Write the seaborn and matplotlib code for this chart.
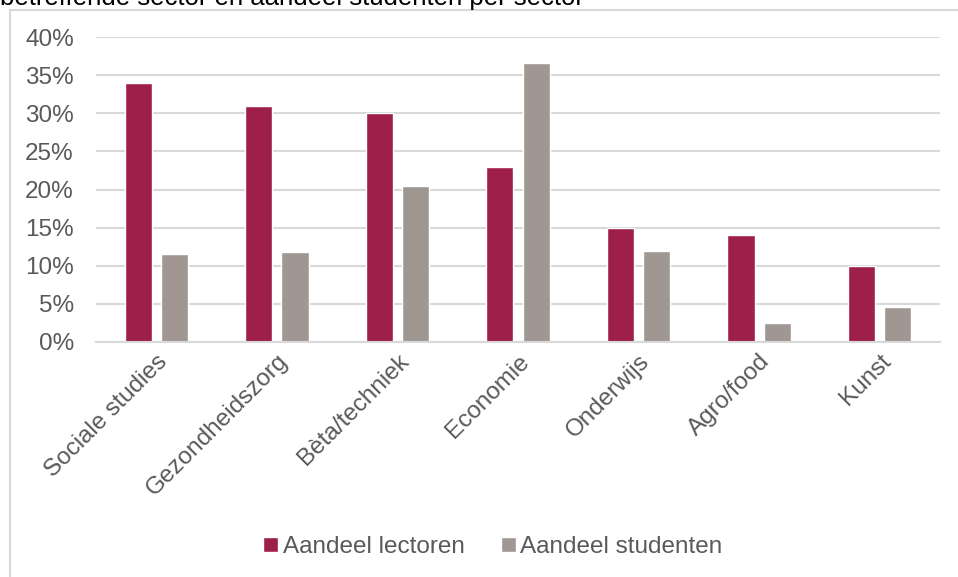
import pandas as pd
import seaborn as sns
import matplotlib.pyplot as plt
from matplotlib.lines import Line2D
from matplotlib.ticker import PercentFormatter

sectors = ['Sociale studies', 'Gezondheidszorg', 'Bèta/techniek', 'Economie',
           'Onderwijs', 'Agro/food', 'Kunst']
lectoren = [34, 31, 30, 23, 15, 14, 10]
studenten = [11.5, 11.8, 20.5, 36.6, 12.0, 2.5, 4.6]
series = ['Aandeel lectoren', 'Aandeel studenten']
colors = {'Aandeel lectoren': '#9E1F4A', 'Aandeel studenten': '#A09792'}

df = pd.DataFrame({
    'sector': sectors * 2,
    'reeks': [series[0]] * len(sectors) + [series[1]] * len(sectors),
    'aandeel': [v / 100 for v in lectoren + studenten],
})

sns.set_style('white')
plt.rcParams['font.family'] = ['Liberation Sans', 'DejaVu Sans']
text_color = '#595959'
grid_color = '#D9D9D9'

fig = plt.figure(figsize=(9.58, 5.77), dpi=100)
ax = fig.add_axes([96 / 958, 235 / 577, 844 / 958, 305 / 577])

sns.barplot(data=df, x='sector', y='aandeel', hue='reeks', palette=colors,
            width=0.6, gap=0.25, ax=ax, saturation=1)

ax.set_ylim(0, 0.4)
ax.set_xlim(-0.5, len(sectors) - 0.5)
ax.set_yticks([i * 0.05 for i in range(9)])
ax.yaxis.set_major_formatter(PercentFormatter(1.0, decimals=0))
ax.yaxis.grid(True, color=grid_color, linewidth=1.5)
ax.set_axisbelow(True)
for side in ['left', 'right', 'top']:
    ax.spines[side].set_visible(False)
ax.spines['bottom'].set_color(grid_color)
ax.spines['bottom'].set_linewidth(1.5)
ax.tick_params(axis='both', length=0, labelsize=17.5, colors=text_color)
ax.tick_params(axis='x', pad=6)
ax.tick_params(axis='y', pad=16)
ax.set_xlabel('')
ax.set_ylabel('')
plt.setp(ax.get_xticklabels(), rotation=45, ha='right', rotation_mode='anchor')

handles, labels = ax.get_legend_handles_labels()
ax.get_legend().remove()
leg = fig.legend(handles, labels, loc='center', bbox_to_anchor=(493 / 958, 1 - 547 / 577),
                 ncol=2, frameon=False, fontsize=17.5, handlelength=0.6, handleheight=0.6,
                 handletextpad=0.2, columnspacing=1.5)
for t in leg.get_texts():
    t.set_color(text_color)

# chart frame (left and top edges visible)
fig.add_artist(Line2D([10 / 958, 10 / 958], [0, 1 - 10 / 577], color=grid_color, linewidth=1.5))
fig.add_artist(Line2D([10 / 958, 1], [1 - 10 / 577, 1 - 10 / 577], color=grid_color, linewidth=1.5))

# title above the frame, cut off by the top edge as in the source
fig.text(0, 1 - 5 / 577, 'betreffende sector en aandeel studenten per sector',
         fontsize=18.5, color='black', va='baseline', ha='left')

fig.savefig('out.png', dpi=100)
